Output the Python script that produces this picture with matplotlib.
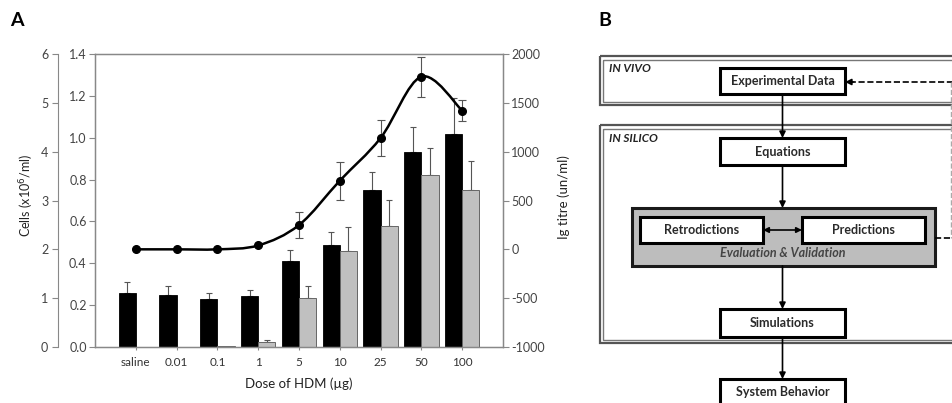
import matplotlib.pyplot as plt
import numpy as np
import matplotlib.patches as mpatches
from matplotlib.path import Path
from matplotlib.ticker import FormatStrFormatter

plt.rcParams['font.family'] = ['Lato', 'DejaVu Sans']
plt.rcParams['axes.unicode_minus'] = False

# data (panel A)
doses = ['saline', '0.01', '0.1', '1', '5', '10', '25', '50', '100']
cells_black = [0.259, 0.247, 0.231, 0.245, 0.409, 0.489, 0.750, 0.932, 1.016]
cells_black_err = [0.050, 0.044, 0.026, 0.027, 0.053, 0.060, 0.085, 0.119, 0.172]
cells_grey = [0.0, 0.0, 0.003, 0.024, 0.236, 0.460, 0.578, 0.822, 0.749]
cells_grey_err = [0.0, 0.0, 0.0, 0.009, 0.054, 0.112, 0.124, 0.130, 0.140]
ige = [0, 0, 0, 40, 249, 703, 1140, 1768, 1420]
ige_err = [0, 0, 0, 0, 135, 195, 186, 205, 108]

W, H = 953, 403
fig = plt.figure(figsize=(W / 100, H / 100), dpi=100)
axc = '#888888'
errc = '#555555'

x = np.arange(len(doses))
ax = fig.add_axes([95 / W, 1 - 347 / H, 408 / W, 293 / H])
ax.bar(x - 0.21, cells_black, width=0.42, color='black', edgecolor='black', lw=0.6, zorder=2)
ax.errorbar(x - 0.21, cells_black, yerr=[np.zeros(len(x)), cells_black_err], fmt='none',
            ecolor=errc, elinewidth=0.8, capsize=2.5, capthick=0.8, zorder=1)
ax.bar(x + 0.21, cells_grey, width=0.42, color='#c0c0c0', edgecolor='#666666', lw=0.7, zorder=2)
g = np.array(cells_grey_err) > 0
ax.errorbar((x + 0.21)[g], np.array(cells_grey)[g],
            yerr=[np.zeros(g.sum()), np.array(cells_grey_err)[g]], fmt='none',
            ecolor=errc, elinewidth=0.8, capsize=2.5, capthick=0.8, zorder=1)
ax.set_xlim(-1, 9)
ax.set_ylim(0, 1.4)
ax.set_yticks(np.arange(0, 1.41, 0.2))
ax.yaxis.set_major_formatter(FormatStrFormatter('%.1f'))
ax.set_xticks(x)
ax.set_xticklabels(doses, fontsize=8.5, color='#333333')
ax.tick_params(axis='x', length=2, color=axc, pad=5)
ax.tick_params(axis='y', labelsize=9, labelcolor='#444444', color=axc, length=4, pad=2)
for s in ax.spines.values():
    s.set_color(axc)
    s.set_linewidth(1.0)
ax.set_xlabel('Dose of HDM (\u00b5g)', fontsize=9.5, color='#222222')
ax.xaxis.set_label_coords(0.5, -0.105)

# IgE titre on the right axis, smoothed line like the original
ax2 = ax.twinx()
ax2.set_ylim(-1000, 2000)
ax2.set_yticks(np.arange(-1000, 2001, 500))
ax2.tick_params(axis='y', labelsize=9, labelcolor='#444444', color=axc, length=4, pad=2)
for s in ax2.spines.values():
    s.set_color(axc)
pts = np.column_stack([x, ige]).astype(float)
verts = [pts[0]]
codes = [Path.MOVETO]
n = len(pts)
for i in range(n - 1):
    p0 = pts[max(i - 1, 0)]
    p1 = pts[i]
    p2 = pts[i + 1]
    p3 = pts[min(i + 2, n - 1)]
    verts += [p1 + (p2 - p0) / 6, p2 - (p3 - p1) / 6, p2]
    codes += [Path.CURVE4] * 3
ax2.add_patch(mpatches.PathPatch(Path(verts, codes), fill=False, color='black', lw=1.8, zorder=3))
e = np.array(ige_err) > 0
ax2.errorbar(x[e], np.array(ige)[e], yerr=np.array(ige_err)[e], fmt='none',
             ecolor=errc, elinewidth=0.8, capsize=3, capthick=0.8, zorder=2)
ax2.plot(x, ige, 'o', color='black', ms=5.5, zorder=4)

# outer cell-count axis 0-6
ax3 = ax.twinx()
ax3.patch.set_visible(False)
ax3.set_ylim(0, 6)
ax3.yaxis.tick_left()
ax3.spines['left'].set_visible(True)
ax3.spines['left'].set_position(('outward', 26.6))
ax3.spines['left'].set_color(axc)
for k in ['right', 'top', 'bottom']:
    ax3.spines[k].set_visible(False)
ax3.tick_params(axis='y', labelsize=9, labelcolor='#444444', color=axc, length=4, pad=3)

fig.text(27 / W, 1 - 195 / H, 'Cells (x10$^6$/ml)', rotation=90, ha='center', va='center',
         fontsize=9, color='#222222')
fig.text(564 / W, 1 - 197 / H, 'Ig titre (un/ml)', rotation=90, ha='center', va='center',
         fontsize=9.5, color='#222222')
fig.text(10 / W, 1 - 20 / H, 'A', fontsize=14, fontweight='bold', va='center')
fig.text(598 / W, 1 - 20 / H, 'B', fontsize=14, fontweight='bold', va='center')

# panel B flowchart in pixel coordinates
axb = fig.add_axes([0, 0, 1, 1])
axb.set_xlim(0, W)
axb.set_ylim(H, 0)
axb.axis('off')


def rect(x0, y0, x1, y1, **kw):
    axb.add_patch(mpatches.Rectangle((x0, y0), x1 - x0, y1 - y0, **kw))


def frame(y0, y1):
    rect(600, y0, 960, y1, fill=False, edgecolor='#555555', lw=1.6)
    rect(603.5, y0 + 3.5, 960, y1 - 3.5, fill=False, edgecolor='#777777', lw=1.0)


frame(56, 105)
frame(125, 343)
axb.text(609, 69, 'IN VIVO', fontsize=8.5, fontweight='bold', style='italic', va='center', color='#222222')
axb.text(609, 138, 'IN SILICO', fontsize=8.5, fontweight='bold', style='italic', va='center', color='#222222')

rect(632, 208, 935, 266, facecolor='#bdbdbd', edgecolor='#1a1a1a', lw=2.2)
boxes = [(720, 68, 845, 94, 'Experimental Data'),
         (720, 138, 845, 165, 'Equations'),
         (640, 217, 763, 243, 'Retrodictions'),
         (802, 217, 925, 243, 'Predictions'),
         (720, 309, 845, 337, 'Simulations'),
         (720, 379, 845, 410, 'System Behavior')]
for x0, y0, x1, y1, t in boxes:
    rect(x0, y0, x1, y1, facecolor='white', edgecolor='black', lw=2.2)
    ty = (y0 + y1) / 2 if y1 < 405 else 392
    axb.text((x0 + x1) / 2, ty, t, fontsize=9, fontweight='bold', ha='center', va='center', color='#2a2a2a')
axb.text(783, 253, 'Evaluation & Validation', fontsize=9, fontweight='bold', style='italic',
         ha='center', va='center', color='#444444')

arrow = dict(arrowstyle='-|>', color='black', lw=1.2, mutation_scale=9, shrinkA=0, shrinkB=0)
for ya, yb in [(94, 138), (165, 208), (266, 309), (337, 379)]:
    axb.annotate('', xy=(782.5, yb), xytext=(782.5, ya), arrowprops=arrow)
axb.annotate('', xy=(763, 230), xytext=(802, 230),
             arrowprops=dict(arrowstyle='<|-|>', color='black', lw=1.2, mutation_scale=8, shrinkA=0, shrinkB=0))
axb.plot([953, 852], [82, 82], ls='--', color='black', lw=1.2)
axb.annotate('', xy=(845, 82), xytext=(853, 82), arrowprops=arrow)
axb.plot([935, 953], [238, 238], ls='--', color='black', lw=1.2)
axb.plot([951, 951], [82, 238], ls='--', color='#aaaaaa', lw=1.0)

fig.savefig('out.png', dpi=100)
